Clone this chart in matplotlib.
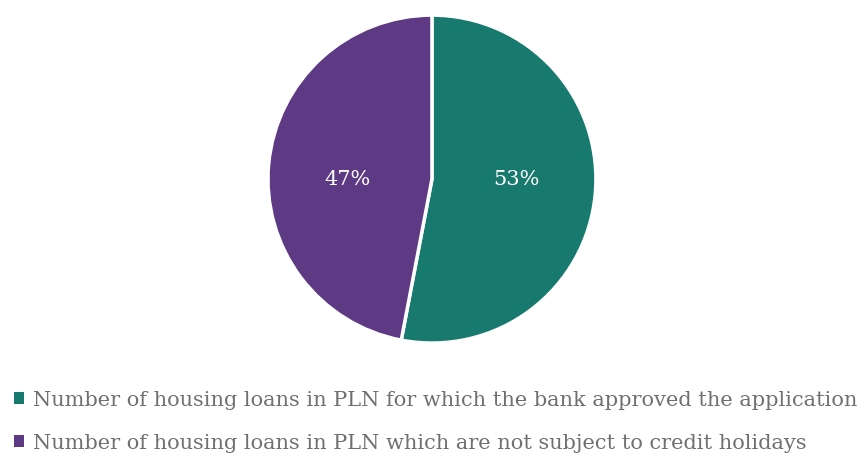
import matplotlib
matplotlib.use('Agg')
import matplotlib.pyplot as plt

# data
labels = ['Number of housing loans in PLN for which the bank approved the application',
          'Number of housing loans in PLN which are not subject to credit holidays']
shares = [53, 47]
colors = ['#187a6e', '#5e3a84']

plt.rcParams['font.family'] = ['DejaVu Serif']

fig = plt.figure(figsize=(8.66, 4.58), dpi=100)
# pie axes: centre ~(432,179) px, radius ~164 px
ax = fig.add_axes([0.4988 - 0.1894, 0.609 - 0.358, 0.3788, 0.716])
wedges, texts, autotexts = ax.pie(shares, colors=colors, startangle=90, counterclock=False,
                                  autopct=lambda p: '%d%%' % round(p), pctdistance=0.52,
                                  wedgeprops=dict(edgecolor='white', linewidth=2.5),
                                  textprops=dict(color='white', fontsize=15))
for t in autotexts:
    t.set_y(0)  # labels sit on the centre line in the original
ax.set_xlim(-1.0, 1.0)
ax.set_ylim(-1.0, 1.0)
ax.set_aspect('equal')
ax.axis('off')

leg = fig.legend(wedges, labels, loc='upper left', bbox_to_anchor=(0.006, 0.165),
                 frameon=False, fontsize=15, labelcolor='#707070',
                 handlelength=0.5, handleheight=0.5, handletextpad=0.45,
                 labelspacing=1.15, borderaxespad=0)
for h in leg.legend_handles:
    h.set_edgecolor('none')

fig.savefig('out.png', dpi=100)
